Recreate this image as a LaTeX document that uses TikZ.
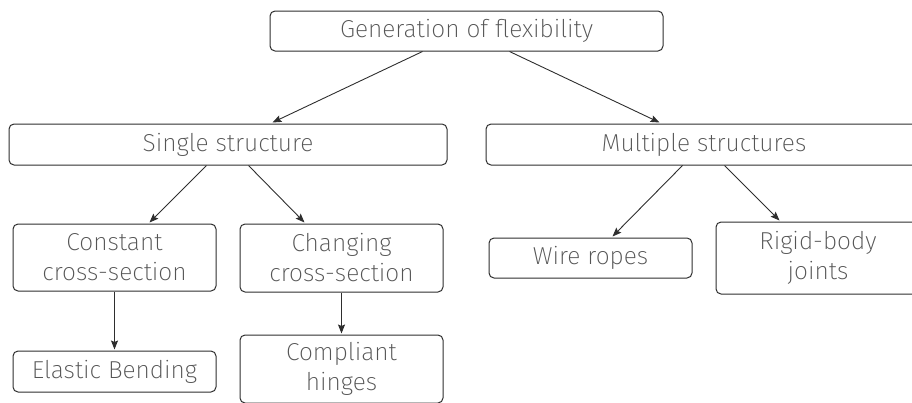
\documentclass[tikz,border=0pt]{standalone}
\usepackage{fontspec}
\setmainfont{Fira Sans ExtraLight}
\usetikzlibrary{arrows.meta}
\definecolor{txt}{HTML}{555555}
\definecolor{ln}{HTML}{2E2E2E}
\tikzset{
  box/.style={draw=ln, line width=1pt, rounded corners=5pt, inner sep=0pt,
    align=center, text=txt, font=\fontsize{24.5}{30}\selectfont},
  conn/.style={draw=ln, line width=0.9pt, -{Stealth[length=9pt,width=7pt,inset=1.5pt]}}
}
\begin{document}
\begin{tikzpicture}[x=1pt,y=-1pt]
\useasboundingbox (0,0) rectangle (912,402);
\node[box, minimum width=393pt, minimum height=40pt] (top) at (466.5,31) {Generation of flexibility};
\node[box, minimum width=438pt, minimum height=41pt] (single) at (228,144.5) {Single structure};
\node[box, minimum width=436pt, minimum height=41pt] (multi) at (704,144.5) {Multiple structures};
\node[box, minimum width=203pt, minimum height=67pt] (const) at (114.5,257.5) {Constant\\cross-section};
\node[box, minimum width=203pt, minimum height=68pt] (chang) at (341.5,258) {Changing\\cross-section};
\node[box, minimum width=203pt, minimum height=41pt] (elastic) at (114.5,371.5) {Elastic Bending};
\node[box, minimum width=203pt, minimum height=68pt] (compl) at (341.5,369) {Compliant\\hinges};
\node[box, minimum width=203pt, minimum height=40pt] (wire) at (590.5,258) {Wire ropes};
\node[box, minimum width=204pt, minimum height=72pt] (rigid) at (818,258) {Rigid-body\\joints};
\draw[conn] ([xshift=153pt]top.south west) -- ([xshift=264pt,yshift=1pt]single.north west);
\draw[conn] ([xshift=240pt]top.south west) -- ([xshift=174pt,yshift=1pt]multi.north west);
\draw[conn] ([xshift=198pt]single.south west) -- ([xshift=137pt,yshift=1pt]const.north west);
\draw[conn] ([xshift=240pt]single.south west) -- ([xshift=65pt,yshift=1pt]chang.north west);
\draw[conn] ([xshift=197pt]multi.south west) -- ([xshift=124pt,yshift=1pt]wire.north west);
\draw[conn] ([xshift=239pt]multi.south west) -- ([xshift=64pt,yshift=1pt]rigid.north west);
\draw[conn] (const.south) -- ([yshift=1pt]elastic.north);
\draw[conn] (chang.south) -- ([yshift=1pt]compl.north);
\end{tikzpicture}
\end{document}
